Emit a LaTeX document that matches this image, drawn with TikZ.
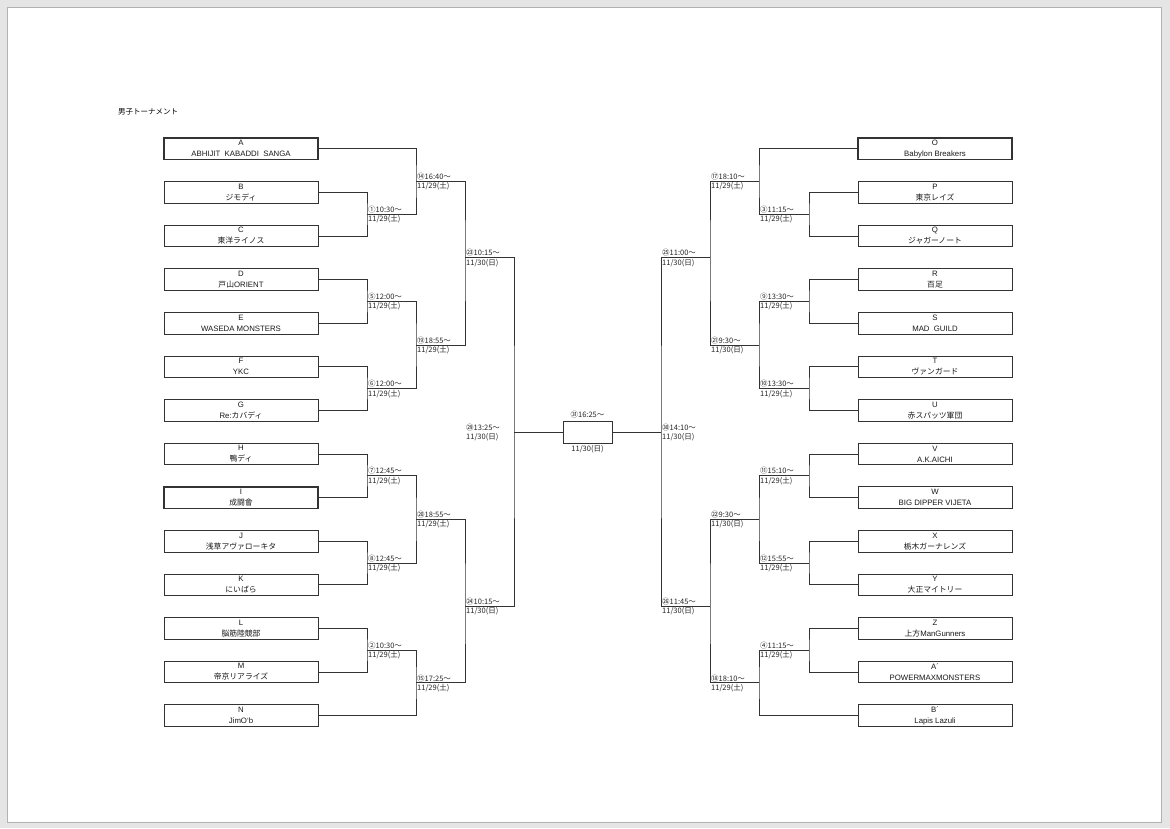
\documentclass[tikz,border=0pt]{standalone}
\usepackage{fontspec}
\setmainfont{Liberation Sans}
\newfontfamily\jp{Noto Sans CJK JP}

\tikzset{
  team/.style={draw=black!80, line width=0.8pt, fill=white, minimum width=154pt,
    minimum height=21.5pt, inner sep=0pt, align=center, text=black!90,
    font=\fontsize{7.8}{11}\selectfont},
  teamthin/.style={team},
  teamthick/.style={team, line width=1.6pt},
  tlab/.style={inner sep=1pt, text=black!85, font=\jp\fontsize{7.5}{8}\selectfont},
  bracket/.style={draw=black!80, line width=0.8pt}
}

\newcommand{\matchinfo}[4]{%
  \node[tlab, above right] (#1t) at (#2) {#3};
  \node[tlab, below right] (#1d) at (#2) {#4};}

\begin{document}
\begin{tikzpicture}[x=1pt, y=-1pt]
  % Page
  \fill[black!10] (0,0) rectangle (1170,828);
  \draw[fill=white, draw=black!30, line width=0.5pt] (7,7) rectangle (1161,822);
  \node[anchor=west, inner sep=0pt, font=\jp\fontsize{7.5}{8}\selectfont] (title) at (118,111.7) {男子トーナメント};

  % Teams, left
  \foreach \k/\id/\lbl/\sty/\name in {
    0/A/A/teamthick/{ABHIJIT\ \ KABADDI\ \ SANGA}, 1/B/B/teamthin/{\jp ジモディ},
    2/C/C/teamthin/{\jp 東洋ライノス}, 3/D/D/teamthin/{{\jp 戸山}ORIENT},
    4/E/E/teamthin/{WASEDA MONSTERS}, 5/F/F/teamthin/YKC,
    6/G/G/teamthin/{Re:{\jp カバディ}}, 7/H/H/teamthin/{\jp 鴨ディ},
    8/I/I/teamthick/{\jp 成闘會}, 9/J/J/teamthin/{\jp 浅草アヴァローキタ},
    10/K/K/teamthin/{\jp にいばら}, 11/L/L/teamthin/{\jp 脳筋陸競部},
    12/M/M/teamthin/{\jp 帝京リアライズ}, 13/N/N/teamthin/{JimO\symbol{96}b}}
    \node[\sty] (t\id) at (241, {148.75+43.6*\k}) {\lbl\\\name};

  % Teams, right
  \foreach \k/\id/\lbl/\sty/\name in {
    0/O/O/teamthick/{Babylon Breakers}, 1/P/P/teamthin/{\jp 東京レイズ},
    2/Q/Q/teamthin/{\jp ジャガーノート}, 3/R/R/teamthin/{\jp 百足},
    4/S/S/teamthin/{MAD\ \ GUILD}, 5/T/T/teamthin/{\jp ヴァンガード},
    6/U/U/teamthin/{\jp 赤スパッツ軍団}, 7/V/V/teamthin/A.K.AICHI,
    8/W/W/teamthin/{BIG DIPPER VIJETA}, 9/X/X/teamthin/{\jp 栃木ガーナレンズ},
    10/Y/Y/teamthin/{\jp 大正マイトリー}, 11/Z/Z/teamthin/{{\jp 上方}ManGunners},
    12/AA/A´/teamthin/POWERMAXMONSTERS, 13/BB/B´/teamthin/{Lapis Lazuli}}
    \node[\sty] (t\id) at (935, {148.75+43.6*\k}) {\lbl\\\name};

  % Final
  \node[draw=black!80, line width=0.8pt, minimum width=49pt, minimum height=22pt, inner sep=0pt] (final) at (587.5,432.15) {};
  \node[tlab, above=1pt] (finalt) at (final.north) {㉛16:25〜};
  \node[tlab, below=1pt] (finald) at (final.south) {11/30(日)};

  % Match points, left
  \coordinate (m1) at (367,214.15);
  \coordinate (m5) at (367,301.35);
  \coordinate (m6) at (367,388.55);
  \coordinate (m7) at (367,475.75);
  \coordinate (m8) at (367,562.95);
  \coordinate (m2) at (367,650.15);
  \coordinate (m14) at (416,181.45);
  \coordinate (m19) at (416,344.95);
  \coordinate (m20) at (416,519.35);
  \coordinate (m15) at (416,682.85);
  \coordinate (m23) at (465,257.75);
  \coordinate (m24) at (465,606.55);
  \coordinate (m29) at (514,432.15);

  % Match points, right
  \coordinate (m3) at (809,214.15);
  \coordinate (m9) at (809,301.35);
  \coordinate (m10) at (809,388.55);
  \coordinate (m11) at (809,475.75);
  \coordinate (m12) at (809,562.95);
  \coordinate (m4) at (809,650.15);
  \coordinate (m17) at (759,181.45);
  \coordinate (m21) at (759,344.95);
  \coordinate (m22) at (759,519.35);
  \coordinate (m18) at (759,682.85);
  \coordinate (m25) at (710,257.75);
  \coordinate (m26) at (710,606.55);
  \coordinate (m30) at (661,432.15);

  % Brackets, left
  \draw[bracket] (tB.east) -| (m1) |- (tC.east);
  \draw[bracket] (tD.east) -| (m5) |- (tE.east);
  \draw[bracket] (tF.east) -| (m6) |- (tG.east);
  \draw[bracket] (tH.east) -| (m7) |- (tI.east);
  \draw[bracket] (tJ.east) -| (m8) |- (tK.east);
  \draw[bracket] (tL.east) -| (m2) |- (tM.east);
  \draw[bracket] (tA.east) -| (m14) |- (m1);
  \draw[bracket] (m5) -| (m19) |- (m6);
  \draw[bracket] (m7) -| (m20) |- (m8);
  \draw[bracket] (m2) -| (m15) |- (tN.east);
  \draw[bracket] (m14) -| (m23) |- (m19);
  \draw[bracket] (m20) -| (m24) |- (m15);
  \draw[bracket] (m23) -| (m29) |- (m24);
  \draw[bracket] (m29) -- (final.west);

  % Brackets, right
  \draw[bracket] (tP.west) -| (m3) |- (tQ.west);
  \draw[bracket] (tR.west) -| (m9) |- (tS.west);
  \draw[bracket] (tT.west) -| (m10) |- (tU.west);
  \draw[bracket] (tV.west) -| (m11) |- (tW.west);
  \draw[bracket] (tX.west) -| (m12) |- (tY.west);
  \draw[bracket] (tZ.west) -| (m4) |- (tAA.west);
  \draw[bracket] (tO.west) -| (m17) |- (m3);
  \draw[bracket] (m9) -| (m21) |- (m10);
  \draw[bracket] (m11) -| (m22) |- (m12);
  \draw[bracket] (m4) -| (m18) |- (tBB.west);
  \draw[bracket] (m17) -| (m25) |- (m21);
  \draw[bracket] (m22) -| (m26) |- (m18);
  \draw[bracket] (m25) -| (m30) |- (m26);
  \draw[bracket] (m30) -- (final.east);

  % Times, left
  \matchinfo{l1}{m1}{①10:30〜}{11/29(土)}
  \matchinfo{l5}{m5}{⑤12:00〜}{11/29(土)}
  \matchinfo{l6}{m6}{⑥12:00〜}{11/29(土)}
  \matchinfo{l7}{m7}{⑦12:45〜}{11/29(土)}
  \matchinfo{l8}{m8}{⑧12:45〜}{11/29(土)}
  \matchinfo{l2}{m2}{②10:30〜}{11/29(土)}
  \matchinfo{l14}{m14}{⑭16:40〜}{11/29(土)}
  \matchinfo{l19}{m19}{⑲18:55〜}{11/29(土)}
  \matchinfo{l20}{m20}{⑳18:55〜}{11/29(土)}
  \matchinfo{l15}{m15}{⑮17:25〜}{11/29(土)}
  \matchinfo{l23}{m23}{㉓10:15〜}{11/30(日)}
  \matchinfo{l24}{m24}{㉔10:15〜}{11/30(日)}
  \matchinfo{l29}{m23 |- m29}{㉙13:25〜}{11/30(日)}

  % Times, right
  \matchinfo{l3}{m17 |- m3}{③11:15〜}{11/29(土)}
  \matchinfo{l9}{m21 |- m9}{⑨13:30〜}{11/29(土)}
  \matchinfo{l10}{m21 |- m10}{⑩13:30〜}{11/29(土)}
  \matchinfo{l11}{m22 |- m11}{⑪15:10〜}{11/29(土)}
  \matchinfo{l12}{m22 |- m12}{⑫15:55〜}{11/29(土)}
  \matchinfo{l4}{m18 |- m4}{④11:15〜}{11/29(土)}
  \matchinfo{l17}{m25 |- m17}{⑰18:10〜}{11/29(土)}
  \matchinfo{l21}{m25 |- m21}{㉑9:30〜}{11/30(日)}
  \matchinfo{l22}{m26 |- m22}{㉒9:30〜}{11/30(日)}
  \matchinfo{l18}{m26 |- m18}{⑱18:10〜}{11/29(土)}
  \matchinfo{l25}{m30 |- m25}{㉕11:00〜}{11/30(日)}
  \matchinfo{l26}{m30 |- m26}{㉖11:45〜}{11/30(日)}
  \matchinfo{l30}{m30}{㉚14:10〜}{11/30(日)}
\end{tikzpicture}
\end{document}
